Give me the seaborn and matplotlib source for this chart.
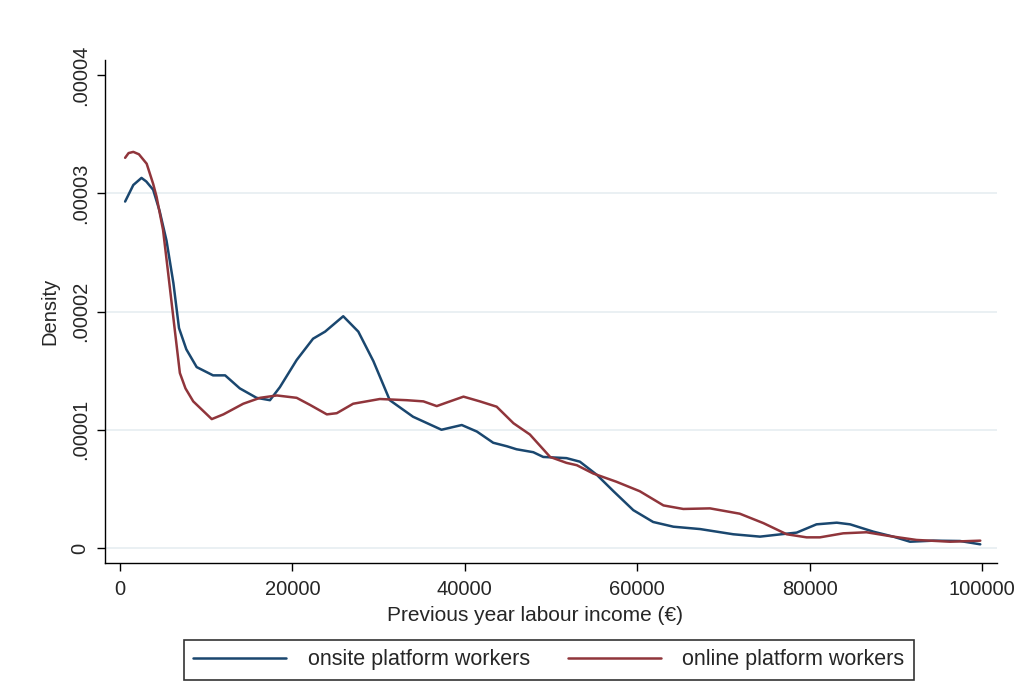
import matplotlib
matplotlib.use("Agg")
import matplotlib.pyplot as plt
from matplotlib.ticker import FuncFormatter
import numpy as np
import pandas as pd
import seaborn as sns

# values (density in units of 1e-5)
onsite_x = [600, 1550, 2500, 3050, 3850, 4600, 5400, 6200, 6850, 7700, 8900, 10800, 12200,
            13900, 15850, 17400, 18550, 20500, 22400, 23800, 25900, 27650, 29400, 31300,
            34000, 37300, 39650, 41400, 43300, 44900, 46000, 47950, 49100, 51800, 53350,
            55300, 57250, 59550, 61850, 64200, 67300, 71150, 74250, 76950, 78500, 80800,
            83150, 84700, 87400, 89700, 91650, 94350, 97450, 99800]
onsite_y = [2.93, 3.07, 3.13, 3.10, 3.03, 2.85, 2.60, 2.24, 1.86, 1.68, 1.53, 1.46, 1.46,
            1.35, 1.27, 1.25, 1.36, 1.59, 1.77, 1.83, 1.96, 1.83, 1.58, 1.25,
            1.11, 1.00, 1.04, 0.985, 0.89, 0.86, 0.835, 0.81, 0.77, 0.76, 0.73,
            0.62, 0.48, 0.32, 0.22, 0.18, 0.16, 0.116, 0.096, 0.118, 0.13, 0.20,
            0.214, 0.20, 0.138, 0.096, 0.053, 0.062, 0.059, 0.031]

online_x = [600, 1000, 1550, 2200, 3100, 3850, 4250, 5000, 5600, 6400, 6950, 7600, 8500,
            10650, 12000, 14300, 16250, 18200, 20500, 22050, 24000, 25150, 27050, 30150,
            33250, 35200, 36750, 37900, 39850, 41750, 43700, 45650, 47550, 49900, 51800,
            53000, 54900, 57600, 60300, 63050, 65350, 68450, 71900, 74650, 77350, 79650,
            81200, 83900, 86600, 89350, 92400, 96300, 99800]
online_y = [3.30, 3.34, 3.35, 3.33, 3.25, 3.08, 2.97, 2.69, 2.32, 1.82, 1.48, 1.35, 1.24,
            1.09, 1.13, 1.22, 1.27, 1.29, 1.27, 1.21, 1.13, 1.14, 1.22, 1.26,
            1.25, 1.24, 1.20, 1.23, 1.28, 1.24, 1.195, 1.055, 0.96, 0.77, 0.72,
            0.70, 0.63, 0.56, 0.48, 0.36, 0.33, 0.335, 0.29, 0.21, 0.116, 0.09,
            0.09, 0.124, 0.133, 0.10, 0.068, 0.053, 0.062]

series_names = ["onsite platform workers", "online platform workers"]
y_ticks = [0, 1e-5, 2e-5, 3e-5, 4e-5]
x_ticks = [0, 20000, 40000, 60000, 80000, 100000]

df = pd.concat([
    pd.DataFrame({"income": onsite_x, "density": np.array(onsite_y) * 1e-5, "group": series_names[0]}),
    pd.DataFrame({"income": online_x, "density": np.array(online_y) * 1e-5, "group": series_names[1]}),
])

sns.set_style("white")
plt.rcParams["font.family"] = ["Liberation Sans", "DejaVu Sans"]

fig = plt.figure(figsize=(10.16, 6.86), dpi=100)
ax = fig.add_axes([0.1033, 0.1793, 0.8780, 0.7332])

# light horizontal grid (not at the top tick)
for v in y_ticks[:-1]:
    ax.axhline(v, color="#e6eef1", lw=1.2, zorder=0)

sns.lineplot(data=df, x="income", y="density", hue="group", sort=False,
             palette=["#1a476f", "#90353b"], lw=1.8, ax=ax, legend=False)

ax.set_xlim(-1740, 101740)
ax.set_ylim(-1.27e-6, 4.127e-5)
ax.set_xticks(x_ticks)
ax.set_yticks(y_ticks)
ax.yaxis.set_major_formatter(FuncFormatter(lambda v, p: "0" if v == 0 else f"{v:.5f}".lstrip("0")))
ax.xaxis.set_major_formatter(FuncFormatter(lambda v, p: f"{int(v)}"))
for lab in ax.get_yticklabels():
    lab.set_rotation(90)
    lab.set_va("center")

ax.tick_params(axis="both", direction="out", length=6, width=1, color="black",
               labelsize=14.5, pad=6, bottom=True, left=True)
ax.tick_params(axis="y", pad=5)
sns.despine(ax=ax)
for s in ["left", "bottom"]:
    ax.spines[s].set_color("black")
    ax.spines[s].set_linewidth(1)

ax.set_xlabel("Previous year labour income (€)", fontsize=15, labelpad=5)
ax.xaxis.label.set_x(0.4826)
ax.set_ylabel("Density", fontsize=14.5, labelpad=8)

handles = [plt.Line2D([], [], color="#1a476f", lw=1.8),
           plt.Line2D([], [], color="#90353b", lw=1.8)]
leg = fig.legend(handles, series_names, loc="center", bbox_to_anchor=(549 / 1016, 1 - 660 / 686),
                 ncol=2, fontsize=15.5, frameon=True, fancybox=False, edgecolor="black",
                 handlelength=4.3, handletextpad=1.0, columnspacing=1.8, borderpad=0.45)
leg.get_frame().set_linewidth(1.2)

fig.savefig("out.png", dpi=100, facecolor="white")
